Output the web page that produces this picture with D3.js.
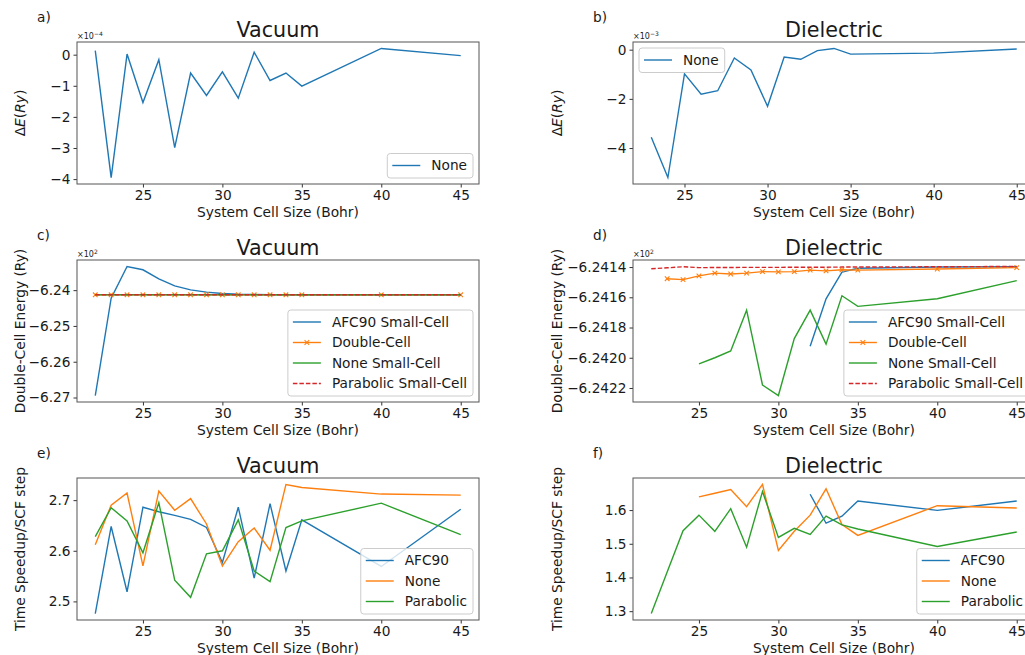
<!DOCTYPE html>
<html>
<head>
<meta charset="UTF-8">
<title>Cell size convergence</title>
<style>
body, html {
	padding: 0;
	margin: 0;
	background: #ffffff;
	overflow: hidden;
}
svg text {
	font-family: 'DejaVu Sans', sans-serif;
	fill: #1a1a1a;
}
</style>
</head>
<body>
<div id="chart"></div>
<script src="https://cdn.jsdelivr.net/npm/d3@7"></script>
<script>
// x values (Bohr)
var cellSizes = [22, 23, 24, 25, 26, 27, 28, 29, 30, 31, 32, 33, 34, 35, 40, 45];
var cellSizesFrom23 = [23, 24, 25, 26, 27, 28, 29, 30, 31, 32, 33, 34, 35, 40, 45];
var cellSizesFrom25 = [25, 26, 27, 28, 29, 30, 31, 32, 33, 34, 35, 40, 45];
var cellSizesFrom32 = [32, 33, 34, 35, 40, 45];

// a) vacuum, energy error, x1e-4 Ry
var vacDeltaNone = [0.13, -3.95, 0.02, -1.54, -0.16, -2.99, -0.59, -1.31, -0.55, -1.40, 0.08, -0.83, -0.59, -1.01, 0.20, -0.03];
// b) dielectric, energy error, x1e-3 Ry
var dieDeltaNone = [-3.56, -5.20, -0.98, -1.81, -1.67, -0.34, -0.82, -2.30, -0.30, -0.39, -0.04, 0.05, -0.18, -0.14, 0.03];

// c) vacuum double-cell energy, x1e2 Ry
var vacAfcSmall = [-6.26945, -6.24224, -6.23338, -6.23431, -6.23683, -6.23879, -6.23991, -6.24056, -6.24093, -6.24112, -6.24120, -6.24126, -6.24129, -6.24130, -6.24130, -6.24130];
var vacDouble = [-6.2413, -6.2413, -6.2413, -6.2413, -6.2413, -6.2413, -6.2413, -6.2413, -6.2413, -6.2413, -6.2413, -6.2413, -6.2413, -6.2413, -6.2413, -6.2413];
var vacNoneSmall = [-6.2413, -6.2413, -6.2413, -6.2413, -6.2413, -6.2413, -6.2413, -6.2413, -6.2413, -6.2413, -6.2413, -6.2413, -6.2413, -6.2413, -6.2413, -6.2413];
var vacParabolicSmall = [-6.2413, -6.2413, -6.2413, -6.2413, -6.2413, -6.2413, -6.2413, -6.2413, -6.2413, -6.2413, -6.2413, -6.2413, -6.2413, -6.2413, -6.2413, -6.2413];

// d) dielectric double-cell energy, x1e2 Ry
var dieAfcSmall = [-6.241924, -6.241610, -6.241433, -6.241408, -6.241400, -6.241398];
var dieDouble = [-6.241477, -6.241483, -6.241458, -6.241440, -6.241446, -6.241440, -6.241430, -6.241432, -6.241430, -6.241420, -6.241425, -6.241418, -6.241420, -6.241413, -6.241404];
var dieNoneSmall = [-6.242040, -6.242000, -6.241955, -6.241685, -6.242180, -6.242250, -6.241873, -6.241685, -6.241910, -6.241590, -6.241660, -6.241610, -6.241490];
var dieParabolicSmall = [-6.241411, -6.241405, -6.241398, -6.241404, -6.241403, -6.241403, -6.241402, -6.241402, -6.241402, -6.241401, -6.241401, -6.241401, -6.241400, -6.241400, -6.241398, -6.241396];

// e) vacuum speedup per SCF step
var vacSpeedAfc = [2.476, 2.648, 2.519, 2.686, 2.677, 2.670, 2.662, 2.646, 2.577, 2.686, 2.546, 2.693, 2.560, 2.661, 2.569, 2.682];
var vacSpeedNone = [2.612, 2.690, 2.714, 2.570, 2.718, 2.680, 2.703, 2.653, 2.570, 2.618, 2.645, 2.601, 2.731, 2.725, 2.712, 2.710];
var vacSpeedParabolic = [2.628, 2.685, 2.659, 2.596, 2.695, 2.542, 2.508, 2.594, 2.600, 2.661, 2.560, 2.539, 2.646, 2.659, 2.694, 2.632];

// f) dielectric speedup per SCF step
var dieSpeedAfc = [1.647, 1.561, 1.582, 1.627, 1.599, 1.627];
var dieSpeedNone = [1.639, 1.650, 1.661, 1.610, 1.676, 1.480, 1.537, 1.585, 1.663, 1.557, 1.525, 1.613, 1.606];
var dieSpeedParabolic = [1.293, 1.416, 1.539, 1.585, 1.537, 1.604, 1.490, 1.655, 1.519, 1.546, 1.528, 1.582, 1.556, 1.544, 1.492, 1.535];

var xTicks = [25, 30, 35, 40, 45];

var blue = "#1f77b4";
var orange = "#ff7f0e";
var green = "#2ca02c";
var red = "#d62728";

var width = 1025;
var height = 655;

var colX = [77, 633];
var rowY = [42, 260, 478];
var axW = 402;
var axH = 142;

var panels = [
	{label: "a)", col: 0, row: 0, title: "Vacuum", ylabel: "dE", offset: ["\u00d710", "\u22124"],
		yTicks: [0, -1, -2, -3, -4], fmt: d3.format("d"), legend: "lower right",
		series: [{name: "None", x: cellSizes, y: vacDeltaNone, color: blue}]},
	{label: "b)", col: 1, row: 0, title: "Dielectric", ylabel: "dE", offset: ["\u00d710", "\u22123"],
		yTicks: [0, -2, -4], fmt: d3.format("d"), legend: "upper left",
		series: [{name: "None", x: cellSizesFrom23, y: dieDeltaNone, color: blue}]},
	{label: "c)", col: 0, row: 1, title: "Vacuum", ylabel: "Double-Cell Energy (Ry)", offset: ["\u00d710", "2"],
		yTicks: [-6.24, -6.25, -6.26, -6.27], fmt: d3.format(".2f"), legend: "lower right",
		series: [
			{name: "AFC90 Small-Cell", x: cellSizes, y: vacAfcSmall, color: blue},
			{name: "Double-Cell", x: cellSizes, y: vacDouble, color: orange, marker: true},
			{name: "None Small-Cell", x: cellSizes, y: vacNoneSmall, color: green},
			{name: "Parabolic Small-Cell", x: cellSizes, y: vacParabolicSmall, color: red, dash: true}
		]},
	{label: "d)", col: 1, row: 1, title: "Dielectric", ylabel: "Double-Cell Energy (Ry)", offset: ["\u00d710", "2"],
		yTicks: [-6.2414, -6.2416, -6.2418, -6.2420, -6.2422], fmt: d3.format(".4f"), legend: "lower right",
		series: [
			{name: "AFC90 Small-Cell", x: cellSizesFrom32, y: dieAfcSmall, color: blue},
			{name: "Double-Cell", x: cellSizesFrom23, y: dieDouble, color: orange, marker: true},
			{name: "None Small-Cell", x: cellSizesFrom25, y: dieNoneSmall, color: green},
			{name: "Parabolic Small-Cell", x: cellSizes, y: dieParabolicSmall, color: red, dash: true}
		]},
	{label: "e)", col: 0, row: 2, title: "Vacuum", ylabel: "Time Speedup/SCF step",
		yTicks: [2.5, 2.6, 2.7], fmt: d3.format(".1f"), legend: "lower right",
		series: [
			{name: "AFC90", x: cellSizes, y: vacSpeedAfc, color: blue},
			{name: "None", x: cellSizes, y: vacSpeedNone, color: orange},
			{name: "Parabolic", x: cellSizes, y: vacSpeedParabolic, color: green}
		]},
	{label: "f)", col: 1, row: 2, title: "Dielectric", ylabel: "Time Speedup/SCF step",
		yTicks: [1.3, 1.4, 1.5, 1.6], fmt: d3.format(".1f"), legend: "lower right",
		series: [
			{name: "AFC90", x: cellSizesFrom32, y: dieSpeedAfc, color: blue},
			{name: "None", x: cellSizesFrom25, y: dieSpeedNone, color: orange},
			{name: "Parabolic", x: cellSizes, y: dieSpeedParabolic, color: green}
		]}
];

var svg = d3.select("#chart").append("svg")
	.attr("width", width)
	.attr("height", height);

// matplotlib style 5% margins
function padded(ext) {
	var m = (ext[1] - ext[0]) * 0.05;
	return [ext[0] - m, ext[1] + m];
}

function xMarker(g, cx, cy, color) {
	var s = 2.3;
	g.append("path")
		.attr("d", "M" + (cx - s) + "," + (cy - s) + "L" + (cx + s) + "," + (cy + s) + "M" + (cx - s) + "," + (cy + s) + "L" + (cx + s) + "," + (cy - s))
		.attr("stroke", color)
		.attr("stroke-width", 1.1)
		.attr("fill", "none");
}

function drawPanel(p) {
	var x0 = colX[p.col];
	var y0 = rowY[p.row];

	var allX = [], allY = [];
	p.series.forEach(function(s) {allX = allX.concat(s.x); allY = allY.concat(s.y)});

	var x = d3.scaleLinear().domain(padded(d3.extent(allX))).range([x0, x0 + axW]);
	var y = d3.scaleLinear().domain(padded(d3.extent(allY))).range([y0 + axH, y0]);

	var g = svg.append("g");

	// axes
	var xAxis = d3.axisBottom(x).tickValues(xTicks).tickSize(3.5).tickPadding(3).tickFormat(d3.format("d"));
	var yAxis = d3.axisLeft(y).tickValues(p.yTicks).tickSize(3.5).tickPadding(3).tickFormat(p.fmt);

	var gx = g.append("g").attr("transform", "translate(0," + (y0 + axH) + ")").call(xAxis);
	var gy = g.append("g").attr("transform", "translate(" + x0 + ",0)").call(yAxis);
	[gx, gy].forEach(function(a) {
		a.select(".domain").remove();
		a.selectAll(".tick line").attr("stroke", "#333").attr("stroke-width", 1);
		a.selectAll(".tick text").style("font-size", "13.7px").attr("fill", "#1a1a1a");
	});

	// lines
	var line = d3.line().x(function(d) {return x(d[0])}).y(function(d) {return y(d[1])});
	p.series.forEach(function(s) {
		var pts = s.x.map(function(v, i) {return [v, s.y[i]]});
		g.append("path")
			.datum(pts)
			.attr("d", line)
			.attr("fill", "none")
			.attr("stroke", s.color)
			.attr("stroke-width", 1.4)
			.attr("stroke-dasharray", s.dash ? "4.5,2" : null);
		if (s.marker) {
			pts.forEach(function(d) {xMarker(g, x(d[0]), y(d[1]), s.color)});
		}
	});

	// frame
	g.append("rect")
		.attr("x", x0).attr("y", y0)
		.attr("width", axW).attr("height", axH)
		.attr("fill", "none")
		.attr("stroke", "#555")
		.attr("stroke-width", 1);

	// legend
	var n = p.series.length;
	var lg = g.append("g");
	var box = lg.append("rect");
	var maxW = 0;
	p.series.forEach(function(s, i) {
		var t = lg.append("text")
			.attr("x", 44)
			.attr("y", 12 + i * 20.5)
			.attr("dy", "0.35em")
			.style("font-size", "13.7px")
			.text(s.name);
		maxW = Math.max(maxW, t.node().getComputedTextLength());
		lg.append("line")
			.attr("x1", 5).attr("x2", 33)
			.attr("y1", 12 + i * 20.5).attr("y2", 12 + i * 20.5)
			.attr("stroke", s.color)
			.attr("stroke-width", 1.4)
			.attr("stroke-dasharray", s.dash ? "4.5,2" : null);
		if (s.marker) xMarker(lg, 19, 12 + i * 20.5, s.color);
	});
	var bw = 44 + maxW + 6;
	var bh = n * 20.5 + 4;
	box.attr("width", bw).attr("height", bh)
		.attr("rx", 3).attr("ry", 3)
		.attr("fill", "#ffffff").attr("fill-opacity", 0.8)
		.attr("stroke", "#cccccc").attr("stroke-width", 1);
	if (p.legend == "lower right") {
		lg.attr("transform", "translate(" + (x0 + axW - 6 - bw) + "," + (y0 + axH - 6 - bh) + ")");
	} else {
		lg.attr("transform", "translate(" + (x0 + 6) + "," + (y0 + 6) + ")");
	}

	// title and panel letter
	svg.append("text")
		.attr("x", x0 + axW / 2)
		.attr("y", y0 - 5)
		.attr("text-anchor", "middle")
		.style("font-size", "20.7px")
		.text(p.title);

	svg.append("text")
		.attr("x", p.col == 0 ? 37 : 593)
		.attr("y", y0 - 20)
		.style("font-size", "13.7px")
		.text(p.label);

	// offset text
	if (p.offset) {
		var ot = svg.append("text")
			.attr("x", x0)
			.attr("y", y0 - 3)
			.style("font-size", "8px")
			.text(p.offset[0]);
		ot.append("tspan")
			.attr("dy", "-3")
			.style("font-size", "6px")
			.text(p.offset[1]);
	}

	// x label
	svg.append("text")
		.attr("x", x0 + axW / 2)
		.attr("y", y0 + axH + 33)
		.attr("text-anchor", "middle")
		.style("font-size", "13.8px")
		.text("System Cell Size (Bohr)");

	// y label
	var lx = p.col == 0 ? 20 : 557;
	var ly = y0 + axH / 2;
	var yl = svg.append("text")
		.attr("transform", "translate(" + lx + "," + ly + ") rotate(-90)")
		.attr("text-anchor", "middle")
		.attr("dy", "0.35em")
		.style("font-size", "13.8px");
	if (p.ylabel == "dE") {
		yl.append("tspan").text("\u0394");
		yl.append("tspan").style("font-style", "italic").text("E");
		yl.append("tspan").text("(");
		yl.append("tspan").style("font-style", "italic").text("Ry");
		yl.append("tspan").text(")");
	} else {
		yl.text(p.ylabel);
	}
}

panels.forEach(drawPanel);
</script>
</body>
</html>
